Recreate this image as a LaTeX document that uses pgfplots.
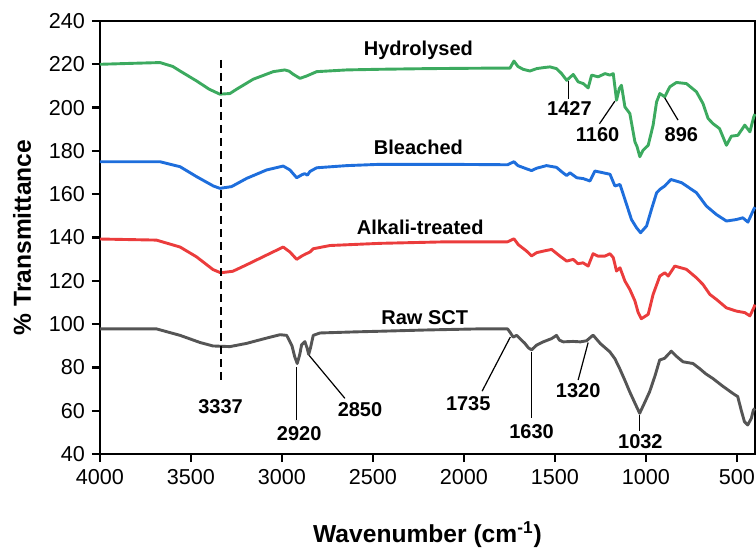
\documentclass[border=0pt]{standalone}
\usepackage{fontspec}
\setmainfont{Liberation Sans}
\usepackage{pgfplots}
\pgfplotsset{compat=1.18}

\definecolor{hyd}{RGB}{60,170,95}
\definecolor{ble}{RGB}{30,110,220}
\definecolor{alk}{RGB}{235,60,60}
\definecolor{raw}{RGB}{85,85,85}

\begin{document}
\begin{tikzpicture}
\begin{axis}[
  width=327.5pt, height=216.5pt, scale only axis,
  xmin=400, xmax=4000, x dir=reverse,
  ymin=40, ymax=240,
  xtick={500,1000,...,4000}, ytick={40,60,...,240},
  xtick pos=bottom, ytick pos=left,
  tick align=outside, major tick length=4pt,
  axis line style={line width=1.1pt},
  every tick/.style={black, line width=1.1pt},
  tick label style={font=\fontsize{10.8}{12}\selectfont},
  /pgf/number format/assume math mode=true,
  /pgf/number format/1000 sep={},
  xlabel={Wavenumber (cm\textsuperscript{-1})},
  ylabel={\% Transmittance},
  label style={font=\fontsize{12.3}{14}\selectfont\bfseries},
  xlabel style={at={(axis description cs:0.5,-0.186)}, anchor=center},
  ylabel style={at={(axis description cs:-0.119,0.5)}, anchor=center},
  clip=false,
  every axis plot/.append style={line width=1.45pt, line join=round, no markers},
]
% Hydrolysed
\addplot[hyd] coordinates {
(4000,220) (3800,220.5) (3670,220.8) (3600,219) (3560,216.9) (3469,212.3) (3400,208.5)
(3359,206.9) (3341,206.2) (3286,206.5) (3249,208.5) (3158,213.1) (3048,216.6) (2984,217.4)
(2960,216.8) (2938,215.4) (2901,213.5) (2864,214.6) (2809,216.6) (2644,217.4) (2461,217.7)
(2200,218) (1900,218.2) (1747,218.2) (1725,221.5) (1703,219) (1675,217.7) (1637,216.9)
(1600,218) (1560,218.5) (1527,218.8) (1491,218) (1463,215.7) (1435,212.6) (1399,215.3)
(1372,211.9) (1344,211.1) (1317,209.1) (1298,215) (1262,214.2) (1225,215.7) (1197,215)
(1179,215.7) (1161,203.4) (1146,208.8) (1134,210.3) (1115,200.3) (1088,197.3) (1060,184.2)
(1048,181.9) (1033,177.3) (1015,180.3) (987,182.6) (960,191.9) (941,202.6) (923,206.5)
(896,205) (868,209.6) (832,211.6) (777,211.1) (722,207.3) (686,201.9) (658,195)
(631,192.6) (595,190.3) (557,182.6) (530,186.8) (494,187.2) (456,191.9) (428,188.8)
(407,195.7) (400,197)
};
% Bleached
\addplot[ble] coordinates {
(4000,175) (3670,175) (3560,172.7) (3469,168.1) (3377,163.8) (3341,162.7) (3277,163.5)
(3194,167.3) (3084,171.2) (2993,173) (2956,171.2) (2919,167.6) (2890,169) (2875,169.5)
(2860,168.8) (2846,170.5) (2809,172.2) (2644,173.2) (2461,173.8) (2100,173.8) (1760,173.6)
(1725,175) (1703,173.2) (1655,171.7) (1628,170.9) (1600,172) (1546,173.2) (1491,172.4)
(1463,170.4) (1435,168.6) (1417,169.9) (1380,167.6) (1344,167.2) (1307,166.1) (1280,170.7)
(1235,169.9) (1197,169.2) (1170,163.8) (1142,164.5) (1115,157.6) (1079,148.3) (1051,144.5)
(1029,142.2) (996,145.3) (969,153) (941,160.6) (923,162.2) (896,163.8) (862,166.8)
(803,165.3) (722,160.7) (667,154.5) (612,150.6) (557,147.6) (502,148.3) (467,149.1)
(439,147.1) (407,153) (400,154)
};
% Alkali-treated
\addplot[alk] coordinates {
(4000,139.3) (3690,138.8) (3560,135.6) (3470,131.1) (3379,125.2) (3337,123.7) (3270,124.4)
(3194,127.4) (3084,131.9) (2993,135.6) (2956,133.3) (2919,129.9) (2890,131.5) (2864,132.6)
(2846,133.3) (2828,134.8) (2736,136.3) (2461,137.3) (2100,138) (1760,138) (1725,139.4)
(1701,136.7) (1655,133.7) (1628,131.5) (1600,133) (1564,133.7) (1518,134.5) (1472,131.4)
(1435,129.1) (1399,129.9) (1373,127.9) (1345,128.3) (1317,126.8) (1290,132.5) (1263,131.4)
(1225,131.4) (1197,132.5) (1179,130.7) (1161,124.5) (1142,126) (1115,119.9) (1088,116)
(1060,110.7) (1042,105.3) (1025,102.5) (1015,103) (987,104.5) (960,113.7) (923,122.2)
(896,123.7) (877,122.2) (841,126.8) (777,125.3) (722,121.4) (686,118.3) (648,113.7)
(612,111.4) (557,107.5) (502,106) (456,105.3) (428,103.8) (407,107.5) (400,109)
};
% Raw SCT
\addplot[raw] coordinates {
(4000,97.8) (3690,97.8) (3560,94.8) (3450,91.5) (3379,89.9) (3286,89.6) (3194,91.1)
(3100,93.2) (3011,95.1) (2974,94.8) (2945,90) (2930,85) (2916,81.8) (2902,86)
(2892,90.4) (2874,91.9) (2862,89) (2853,86) (2843,89) (2828,94.8) (2791,95.9)
(2600,96.4) (2461,96.7) (2200,97.3) (1912,97.8) (1760,97.8) (1747,96.3) (1729,94)
(1710,94.8) (1665,91.1) (1645,89) (1628,88.1) (1600,90.3) (1564,91.8) (1518,93.3)
(1491,94.8) (1475,92.6) (1454,91.8) (1400,92) (1360,91.8) (1326,92.3) (1290,94.9)
(1250,91) (1198,87.2) (1170,84) (1144,79.5) (1115,74) (1089,68.8) (1060,63.5)
(1034,58.8) (1005,64) (979,68.8) (950,76) (924,83.4) (897,84.2) (860,87.5)
(830,85) (796,82.6) (741,81.8) (705,79.5) (670,77) (632,74.9) (580,71.5)
(522,68) (495,66.5) (475,60) (458,54.9) (440,53.4) (420,56.5) (409,60.3) (400,61)
};

% series names
\begin{scope}[every node/.style={font=\fontsize{10}{12}\selectfont\bfseries}]
\node at (axis cs:2250,226.5) {Hydrolysed};
\node at (axis cs:2250,181.7) {Bleached};
\node at (axis cs:2240,144.7) {Alkali-treated};
\node at (axis cs:2215,103) {Raw SCT};
% peak labels
\node at (axis cs:3337,61.7) {3337};
\node at (axis cs:2905,49.6) {2920};
\node at (axis cs:2571,60.3) {2850};
\node at (axis cs:1976,63.4) {1735};
\node at (axis cs:1628,50.3) {1630};
\node at (axis cs:1372,69.5) {1320};
\node at (axis cs:1030,45.7) {1032};
\node at (axis cs:1420,199.6) {1427};
\node at (axis cs:1265,187.3) {1160};
\node at (axis cs:805,187.3) {896};
\end{scope}

\draw[black, line width=1pt, dash pattern=on 4pt off 2.5pt] (axis cs:3337,222) -- (axis cs:3337,72);
\begin{scope}[black, line width=0.6pt]
\draw (axis cs:2919,80) -- (axis cs:2919,55.5);
\draw (axis cs:2850,85.5) -- (axis cs:2654,65.7);
\draw (axis cs:1745,94) -- (axis cs:1900,69);
\draw (axis cs:1628,87) -- (axis cs:1628,56.6);
\draw (axis cs:1317,91.5) -- (axis cs:1372,74.2);
\draw (axis cs:1034,58) -- (axis cs:1034,50.5);
\draw (axis cs:1427,212.3) -- (axis cs:1427,204);
\draw (axis cs:1170,203) -- (axis cs:1255,192.5);
\draw (axis cs:896,204.5) -- (axis cs:823,194.2);
\end{scope}

\coordinate (LL) at (axis cs:4000,40);
\coordinate (UR) at (axis cs:400,240);
\end{axis}
\pgfresetboundingbox
\path ([shift={(-50pt,-47.5pt)}]LL) rectangle ([shift={(0.5pt,10.5pt)}]UR);
\end{tikzpicture}
\end{document}
